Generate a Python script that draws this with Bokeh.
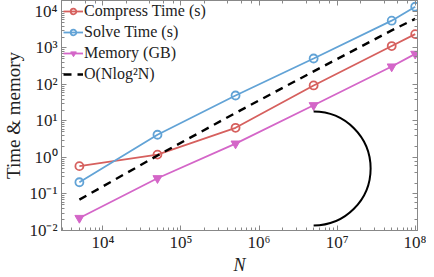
from bokeh.plotting import figure
from bokeh.models import LogAxis, Legend, LegendItem, CustomJSTickFormatter
from bokeh.embed import file_html
from bokeh.resources import INLINE
import math

N = [5e3, 5e4, 5e5, 5e6, 5e7, 1e8]
compress_time = [0.58, 1.2, 6.5, 94, 1130, 2400]
solve_time = [0.21, 4.2, 50, 515, 5600, 13500]
memory_gb = [0.022, 0.27, 2.4, 27, 310, 690]
ref_nlog2n = [0.070, 1.13, 16.6, 229, 3033, 6300]
arc_x = [5e6]
arc_y = [0.5]

RED = "#d6605e"
BLUE = "#62a3d6"
MAG = "#d466c8"
FONT = "Liberation Serif"

sup_fmt = CustomJSTickFormatter(code="""
const sup = {'-':'\u207b','0':'\u2070','1':'\u00b9','2':'\u00b2','3':'\u00b3','4':'\u2074',
             '5':'\u2075','6':'\u2076','7':'\u2077','8':'\u2078','9':'\u2079'};
const e = Math.round(Math.log10(tick));
return '10' + String(e).split('').map(c => sup[c]).join('');
""")

p = figure(width=426, height=277, x_axis_type="log", y_axis_type="log",
           x_range=(2950, 1.07e8), y_range=(1e-2, 2e4),
           output_backend="svg", toolbar_location=None,
           min_border_left=45, min_border_right=9, min_border_top=0, min_border_bottom=30)
p.grid.visible = False
p.outline_line_color = "#888888"
p.background_fill_color = "white"

for ax in [p.xaxis[0], p.yaxis[0]]:
    ax.formatter = sup_fmt
    ax.major_tick_in = 5
    ax.major_tick_out = 0
    ax.minor_tick_in = 3
    ax.minor_tick_out = 0
    ax.axis_line_color = "#888888"
    ax.major_tick_line_color = "#888888"
    ax.minor_tick_line_color = "#888888"
    ax.major_label_text_font = FONT
    ax.major_label_text_font_size = "17px"
    ax.major_label_text_color = "#222222"
    ax.axis_label_text_font = FONT
    ax.axis_label_text_color = "#222222"

p.xaxis.axis_label = "N"
p.xaxis.axis_label_text_font_style = "italic"
p.xaxis.axis_label_text_font_size = "18px"
p.xaxis.major_label_standoff = 2
p.xaxis.axis_label_standoff = 0
p.yaxis.axis_label = "Time & memory"
p.yaxis.axis_label_text_font_style = "normal"
p.yaxis.axis_label_text_font_size = "19px"
p.yaxis.major_label_standoff = 4
p.yaxis.axis_label_standoff = 2

for loc in ["above", "right"]:
    a = LogAxis(major_tick_in=5, major_tick_out=0, minor_tick_in=3, minor_tick_out=0,
                axis_line_color="#888888", major_tick_line_color="#888888",
                minor_tick_line_color="#888888", major_label_text_color=None,
                major_label_text_font_size="1px", major_label_standoff=0)
    p.add_layout(a, loc)

r1 = p.line(N, compress_time, line_color=RED, line_width=1.8)
m1 = p.scatter(N, compress_time, marker="circle", size=8, line_color=RED, fill_color=None, line_width=1.8)
r2 = p.line(N, solve_time, line_color=BLUE, line_width=1.8)
m2 = p.scatter(N, solve_time, marker="circle", size=8, line_color=BLUE, fill_color=None, line_width=1.8)
r3 = p.line(N, memory_gb, line_color=MAG, line_width=1.8)
m3 = p.scatter(N, memory_gb, marker="inverted_triangle", size=9, line_color=MAG, fill_color=MAG)
r4 = p.line(N, ref_nlog2n, line_color="black", line_width=2.4, line_dash="8 6")

p.arc(x=arc_x, y=arc_y, radius=57, radius_units="screen",
      start_angle=-math.pi / 2, end_angle=math.pi / 2, line_color="black", line_width=2)

legend = Legend(items=[
    LegendItem(label="Compress Time (s)", renderers=[r1, m1]),
    LegendItem(label="Solve Time (s)", renderers=[r2, m2]),
    LegendItem(label="Memory (GB)", renderers=[r3, m3]),
    LegendItem(label="O(Nlog\u00b2N)", renderers=[r4]),
], location="top_left")
legend.label_text_font = FONT
legend.label_text_font_size = "16px"
legend.label_text_color = "#222222"
legend.border_line_color = None
legend.background_fill_alpha = 0
legend.glyph_width = 20
legend.glyph_height = 14
legend.label_standoff = 1
legend.spacing = 3
legend.padding = 2
legend.margin = 2
legend.label_height = 14
p.add_layout(legend)

open("out.html", "w").write(file_html(p, INLINE))
